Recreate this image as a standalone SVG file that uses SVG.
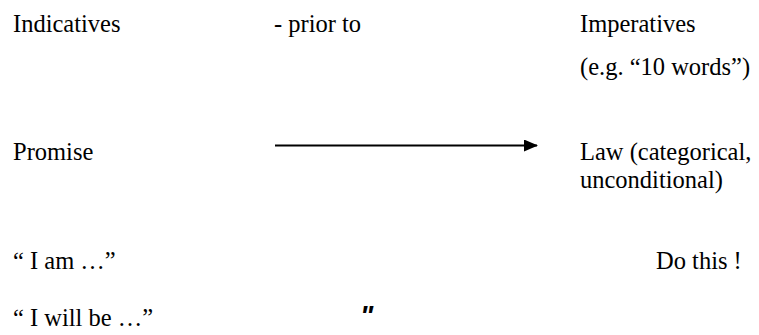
<svg xmlns="http://www.w3.org/2000/svg" width="759" height="335" viewBox="0 0 759 335">
<style>
.t{font-family:'Liberation Serif','Times New Roman',serif;font-size:24.5px;fill:#000}
.mark{font-family:'Liberation Sans',Arial,sans-serif;font-style:italic;font-weight:bold;font-size:28px;fill:#000}
</style>
<defs>
<marker id="ah" markerWidth="14" markerHeight="12" refX="13" refY="6" orient="auto" markerUnits="userSpaceOnUse">
<path d="M0,0 L14,6 L0,12 Z" fill="#000"/>
</marker>
</defs>
<rect width="759" height="335" fill="#fff"/>
<g class="t" font-family="Liberation Serif, Times New Roman, serif">
<g id="indicatives"><text x="13" y="32">Indicatives</text></g>
<g id="prior"><text x="274" y="32">- prior to</text></g>
<g id="imperatives"><text x="580" y="32">Imperatives</text><text x="580" y="75">(e.g. “10 words”)</text></g>
<g id="promise"><text x="13" y="160">Promise</text></g>
<g id="law"><text x="580" y="160">Law (categorical,</text><text x="580" y="188">unconditional)</text></g>
<g id="iam"><text x="13" y="269">“ I am …”</text></g>
<g id="iwillbe"><text x="13" y="326">“ I will be …”</text></g>
<g id="dothis"><text x="656" y="269">Do this !</text></g>
</g>
<g id="ditto"><text class="mark" x="360" y="325">"</text></g>
<g id="connectors"><line x1="275" y1="145.5" x2="537" y2="145.5" stroke="#000" stroke-width="2" marker-end="url(#ah)"/></g>
</svg>
